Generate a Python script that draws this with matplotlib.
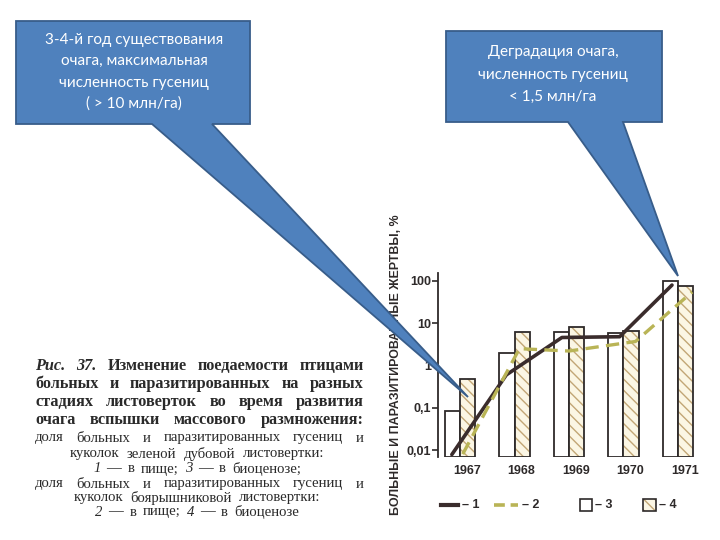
import matplotlib
matplotlib.use("Agg")
import matplotlib.pyplot as plt
from matplotlib.patches import Polygon, Rectangle
from matplotlib.lines import Line2D
from matplotlib.ticker import NullLocator

# ---------------- data ----------------
years = [1967, 1968, 1969, 1970, 1971]
year_labels = ["1967", "1968", "1969", "1970", "1971"]
# 3 — доля в биоценозе (зеленая дубовая листовертка), белые столбцы
bars_3 = [0.084, 1.98, 6.2, 5.9, 100]
# 4 — доля в биоценозе (боярышниковая листовертка), штрихованные столбцы
bars_4 = [0.48, 6.2, 8.1, 6.6, 76]
# 1 — в пище (зеленая дубовая листовертка), сплошная линия
line_1 = [0.0078, 0.6, 4.6, 4.8, 80]
# 2 — в пище (боярышниковая листовертка), пунктир
line_2 = [0.008, 2.5, 2.2, 3.7, 55]
ytick_values = [0.01, 0.1, 1, 10, 100]
ytick_labels = ["0,01", "0,1", "1", "10", "100"]
y_title = "БОЛЬНЫЕ И ПАРАЗИТИРОВАННЫЕ ЖЕРТВЫ, %"
legend_labels = ["– 1", "– 2", "– 3", "– 4"]

callout_1 = ["3-4-й год существования", "очага, максимальная",
             "численность гусениц", "( > 10 млн/га)"]
callout_2 = ["Деградация очага,", "численность гусениц", "< 1,5 млн/га"]

# ---------------- style ----------------
DARK = "#2e2a2a"
LINE1_C = "#3a2c2c"
LINE2_C = "#b9b456"
HATCH_C = "#c2a676"
CREAM = "#fbf6e4"
BLUE = "#4f81bd"
BLUE_EDGE = "#385d8a"
SANS = ["Liberation Sans", "DejaVu Sans"]
SERIF = ["Liberation Serif", "DejaVu Serif"]
plt.rcParams["hatch.linewidth"] = 1.0

fig = plt.figure(figsize=(7.2, 5.4), dpi=100)
fig.patch.set_facecolor("white")

# chart axes (pixel box: x 438..700, y 273..457)
ax = fig.add_axes([438 / 720, 83 / 540, 262 / 720, 184 / 540])
ax.set_yscale("log")
ymin, ymax = 0.00683, 154.5
ax.set_ylim(ymin, ymax)
ax.set_xlim(1966.596, 1971.404)
ax.patch.set_visible(False)

w = 0.284
xs_left = [y - w for y in years]
ax.bar(xs_left, [v - ymin for v in bars_3], width=w, bottom=ymin, align="edge",
       facecolor="white", edgecolor=DARK, linewidth=1.3, zorder=2)
ax.bar(years, [v - ymin for v in bars_4], width=w, bottom=ymin, align="edge",
       facecolor=CREAM, edgecolor=HATCH_C, linewidth=0, hatch="\\\\\\", zorder=2)
ax.bar(years, [v - ymin for v in bars_4], width=w, bottom=ymin, align="edge",
       facecolor="none", edgecolor=DARK, linewidth=1.3, zorder=2.1)

dx1 = [-0.15, -0.15, -0.13, -0.07, -0.11]
dx2 = [0.05, 0.09, 0.0, 0.22, 0.26]
ax.plot([y + d for y, d in zip(years, dx1)], line_1, color=LINE1_C, lw=2.6,
        solid_capstyle="round", solid_joinstyle="round", zorder=3)
ax.plot([y + d for y, d in zip(years, dx2)], line_2, color=LINE2_C, lw=2.4,
        dashes=(4, 2.2), zorder=3)

ax.set_yticks(ytick_values, ytick_labels, fontweight="bold", family=SANS,
              fontsize=9, color=DARK)
ax.yaxis.set_minor_locator(NullLocator())
ax.tick_params(axis="y", direction="out", length=4, width=1.2, color=DARK, pad=1)
ax.set_xticks([y + 0.13 for y in years], year_labels, fontweight="bold",
              family=SANS, fontsize=9, color=DARK)
ax.tick_params(axis="x", length=0, pad=6)
for s in ["top", "right", "bottom"]:
    ax.spines[s].set_visible(False)
ax.spines["left"].set_color(DARK)
ax.spines["left"].set_linewidth(1.3)

# overlay axes in pixel coordinates
ov = fig.add_axes([0, 0, 1, 1], zorder=5)
ov.set_xlim(0, 720)
ov.set_ylim(540, 0)
ov.axis("off")
ov.patch.set_visible(False)

# y title
ov.text(396, 365, y_title, rotation=90, ha="center", va="center",
        fontsize=8.9, fontweight="bold", family=SANS, color=DARK, zorder=1)

# legend
ov.add_line(Line2D([441, 458], [505, 505], color=LINE1_C, lw=3, zorder=1))
ov.add_line(Line2D([494, 518], [505, 505], color=LINE2_C, lw=2.6,
                   dashes=(3, 1.6), zorder=1))
ov.add_patch(Rectangle((580, 499), 12, 12, facecolor="white", edgecolor=DARK,
                       lw=1.2, zorder=1))
ov.add_patch(Rectangle((643, 499), 13, 12, facecolor=CREAM, edgecolor=HATCH_C,
                       lw=0, hatch="\\\\\\", zorder=1))
ov.add_patch(Rectangle((643, 499), 13, 12, facecolor="none", edgecolor=DARK,
                       lw=1.2, zorder=1.1))
for xl, lab in zip([462, 522, 595, 659], legend_labels):
    ov.text(xl, 505, lab, ha="left", va="center", fontsize=9,
            fontweight="bold", family=SANS, color=DARK, zorder=1)

# caption (justified serif text)
renderer = fig.canvas.get_renderer()
CAP_C = "#2a2a2a"


def draw_words(words, y, size, x0=None, x1=None, cx=None, gapscale=1.0):
    texts = []
    for word, style in words:
        kw = dict(fontsize=size, family=SERIF, color=CAP_C, va="center",
                  ha="left", zorder=1)
        if "b" in style:
            kw["fontweight"] = "bold"
        if "i" in style:
            kw["fontstyle"] = "italic"
        texts.append(ov.text(0, y, word, **kw))
    widths = [t.get_window_extent(renderer).width for t in texts]
    if cx is None:
        gap = (x1 - x0 - sum(widths)) / max(len(words) - 1, 1)
        start = x0
    else:
        gap = 0.28 * size * 100 / 72 * gapscale
        total = sum(widths) + gap * (len(words) - 1)
        start = cx - total / 2
    x = start
    for t, wd in zip(texts, widths):
        t.set_x(x)
        x += wd + gap


def plain(s, style=""):
    return [(wd, style) for wd in s.split()]


X0, X1, CX = 35, 364, 197
BS, RS = 11.7, 10.6
draw_words([("Рис.", "bi"), ("37.", "bi")] + plain("Изменение поедаемости птицами", "b"),
           366, BS, X0, X1)
draw_words(plain("больных и паразитированных на разных", "b"), 384, BS, X0, X1)
draw_words(plain("стадиях листоверток во время развития", "b"), 402, BS, X0, X1)
draw_words(plain("очага вспышки массового размножения:", "b"), 420, BS, X0, X1)
draw_words(plain("доля больных и паразитированных гусениц и"), 438, RS, X0, X1)
draw_words(plain("куколок зеленой дубовой листовертки:"), 454, RS, cx=CX, gapscale=1.8)
draw_words([("1", "i"), ("—", ""), ("в", ""), ("пище;", ""), ("3", "i"), ("—", ""),
            ("в", ""), ("биоценозе;", "")], 469, RS, cx=CX, gapscale=1.5)
draw_words(plain("доля больных и паразитированных гусениц и"), 484, RS, X0, X1)
draw_words(plain("куколок боярышниковой листовертки:"), 498, RS, cx=CX, gapscale=1.8)
draw_words([("2", "i"), ("—", ""), ("в", ""), ("пище;", ""), ("4", "i"), ("—", ""),
            ("в", ""), ("биоценозе", "")], 512, RS, cx=CX, gapscale=1.5)

# callouts
poly1 = [(16, 21), (250, 21), (250, 124), (212, 124), (468, 397), (152, 124), (16, 124)]
poly2 = [(446, 31), (662, 31), (662, 122), (623, 122), (678, 276), (568, 122), (446, 122)]
for pts in (poly1, poly2):
    ov.add_patch(Polygon(pts, closed=True, facecolor=BLUE, edgecolor=BLUE_EDGE,
                         lw=1.3, zorder=4))
for i, line in enumerate(callout_1):
    ov.text(134, 40 + i * 21.3, line, ha="center", va="center", fontsize=11,
            family=["Lato", "DejaVu Sans"], color="white", zorder=5)
for i, line in enumerate(callout_2):
    ov.text(553, 52 + i * 22.5, line, ha="center", va="center", fontsize=11,
            family=["Lato", "DejaVu Sans"], color="white", zorder=5)

fig.savefig("out.png", dpi=100, facecolor="white")
